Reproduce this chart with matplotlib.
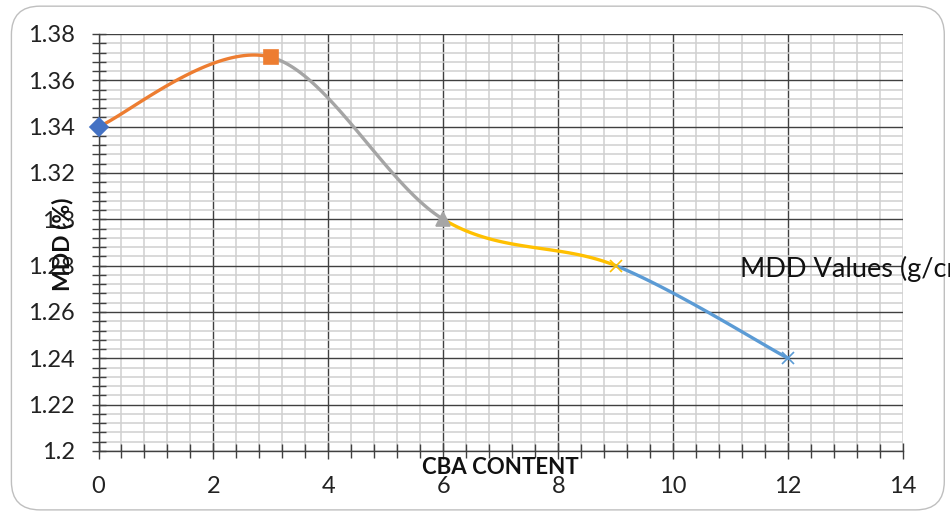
import numpy as np
import matplotlib
matplotlib.use("Agg")
import matplotlib.pyplot as plt
from matplotlib.patches import FancyBboxPatch
from matplotlib.ticker import MultipleLocator

cba = [0, 3, 6, 9, 12]
mdd = [1.34, 1.37, 1.30, 1.28, 1.24]
seg_colors = ["#ED7D31", "#A5A5A5", "#FFC000", "#5B9BD5"]
mk_colors = ["#4472C4", "#ED7D31", "#A5A5A5", "#FFC000", "#5B9BD5"]
mk_styles = ["D", "s", "^", "x", "x"]
yticks = [1.2, 1.22, 1.24, 1.26, 1.28, 1.3, 1.32, 1.34, 1.36, 1.38]
ytick_labels = ["1.2", "1.22", "1.24", "1.26", "1.28", "1.3", "1.32", "1.34", "1.36", "1.38"]
xticks = [0, 2, 4, 6, 8, 10, 12, 14]

plt.rcParams['font.family'] = ['Lato', 'DejaVu Sans']

fig = plt.figure(figsize=(9.5, 5.14), dpi=100)
fig.patches.append(FancyBboxPatch((0.012, 0.008), 0.982, 0.98, boxstyle="round,pad=0,rounding_size=0.03",
                                  transform=fig.transFigure, fill=False, edgecolor="#BFBFBF", lw=1.0,
                                  mutation_aspect=950/514))
ax = fig.add_axes([0.1037, 0.1226, 0.8468, 0.8113])

P = np.column_stack([cba, mdd]).astype(float)
n = len(P)
for i in range(n - 1):
    p0 = P[i]; p3 = P[i + 1]
    prev = P[i - 1] if i > 0 else P[i]
    nxt = P[i + 2] if i + 2 < n else P[i + 1]
    c1 = p0 + (p3 - prev) / 6.0
    c2 = p3 - (nxt - p0) / 6.0
    t = np.linspace(0, 1, 100)[:, None]
    B = (1 - t) ** 3 * p0 + 3 * (1 - t) ** 2 * t * c1 + 3 * (1 - t) * t ** 2 * c2 + t ** 3 * p3
    ax.plot(B[:, 0], B[:, 1], color=seg_colors[i], lw=2.4, solid_capstyle="round", zorder=3)

for i in range(n):
    ms = 9.5 if mk_styles[i] in ("D", "s", "^") else 9
    ax.plot(cba[i], mdd[i], marker=mk_styles[i], color=mk_colors[i], ms=ms,
            mew=1.2, ls="none", zorder=4, clip_on=False)

ax.set_xlim(0, 14)
ax.set_ylim(1.2, 1.38)
ax.set_xticks(xticks)
ax.set_yticks(yticks)
ax.set_yticklabels(ytick_labels)
ax.xaxis.set_minor_locator(MultipleLocator(0.4))
ax.yaxis.set_minor_locator(MultipleLocator(0.004))
ax.grid(which="minor", color="#D0D0D0", lw=1.1, zorder=0)
ax.grid(which="major", color="#404040", lw=1.0, zorder=1)
ax.set_axisbelow(True)
for s in ["top", "right"]:
    ax.spines[s].set_visible(False)
for s in ["left", "bottom"]:
    ax.spines[s].set_color("#404040")
    ax.spines[s].set_linewidth(1.0)
ax.tick_params(axis="both", which="both", direction="inout", length=10, width=1.0, color="#404040",
               labelsize=17, labelcolor="#222222")
ax.tick_params(axis="y", which="both", pad=12)
ax.tick_params(axis="x", which="both", pad=12)
ax.tick_params(axis="x", which="major", length=12)

fig.text(0.066, 0.525, "MDD (%)", rotation=90, fontsize=16.5, fontweight="bold", ha="center", va="center",
         color="#111111")
fig.text(0.527, 0.09, "CBA CONTENT", fontsize=16, fontweight="bold", ha="center", va="center",
         color="#111111")
fig.text(0.779, 0.478, "MDD Values (g/cm³)", fontsize=19.5, ha="left", va="center", color="#111111")

fig.savefig("out.png", dpi=100)
